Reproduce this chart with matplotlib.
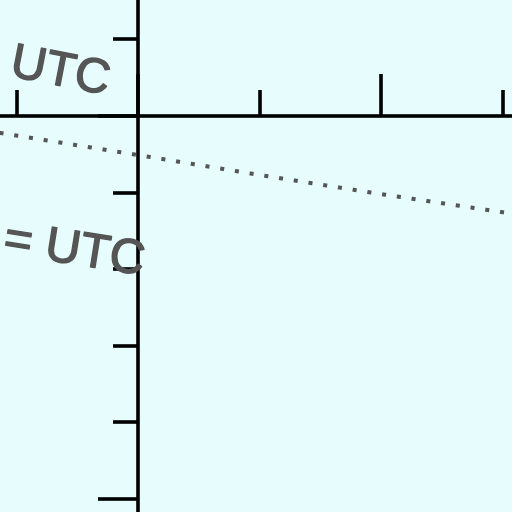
import matplotlib
matplotlib.use("Agg")
import matplotlib.pyplot as plt
import matplotlib.patheffects as pe

# dotted curve (x in tick units, y in tick units; axes cross at 0,0)
curve_x = [-1.14, 0, 1, 2, 3.1]
curve_y = [-0.22, -0.51, -0.77, -1.02, -1.28]

# tick positions
x_major = [0, 2]
x_minor = [-1, 1, 3]
y_major = [0, -5]
y_minor = [1, -1, -2, -3, -4]

labels = ["UTC", "= UTC"]

bg = "#e6fcfd"
ink = "#555555"

fig = plt.figure(figsize=(5.12, 5.12), dpi=100)
fig.patch.set_facecolor(bg)
ax = fig.add_axes([0, 0, 1, 1])
ax.set_facecolor(bg)

ax.set_xlim(-1.136, 3.078)
ax.set_ylim(-5.17, 1.514)

ax.plot(curve_x, curve_y, color=ink, lw=2.9, linestyle=(0, (1, 2.7)))

for s in ["top", "right"]:
    ax.spines[s].set_visible(False)
ax.spines["left"].set_position(("data", 0))
ax.spines["bottom"].set_position(("data", 0))
ax.spines["left"].set_linewidth(2.6)
ax.spines["bottom"].set_linewidth(2.6)

ax.set_xticks(x_major)
ax.set_xticks(x_minor, minor=True)
ax.set_yticks(y_major)
ax.set_yticks(y_minor, minor=True)
ax.tick_params(axis="x", which="major", direction="in", length=30, width=2.6,
               labelbottom=False)
ax.tick_params(axis="x", which="minor", direction="in", length=19, width=2.6)
ax.tick_params(axis="y", which="major", direction="out", length=29, width=2.6,
               labelleft=False)
ax.tick_params(axis="y", which="minor", direction="out", length=18, width=2.6)

thick = [pe.withStroke(linewidth=1.0, foreground=ink)]
ax.text(0.017, 0.852, labels[0], transform=ax.transAxes, rotation=-11,
        rotation_mode="anchor", ha="left", va="baseline",
        fontsize=35, color=ink, family="Liberation Sans", path_effects=thick)
ax.text(0.004, 0.506, labels[1], transform=ax.transAxes, rotation=-9,
        rotation_mode="anchor", ha="left", va="baseline",
        fontsize=35, color=ink, family="Liberation Sans", path_effects=thick)

fig.savefig("out.png", dpi=100, facecolor=bg)
